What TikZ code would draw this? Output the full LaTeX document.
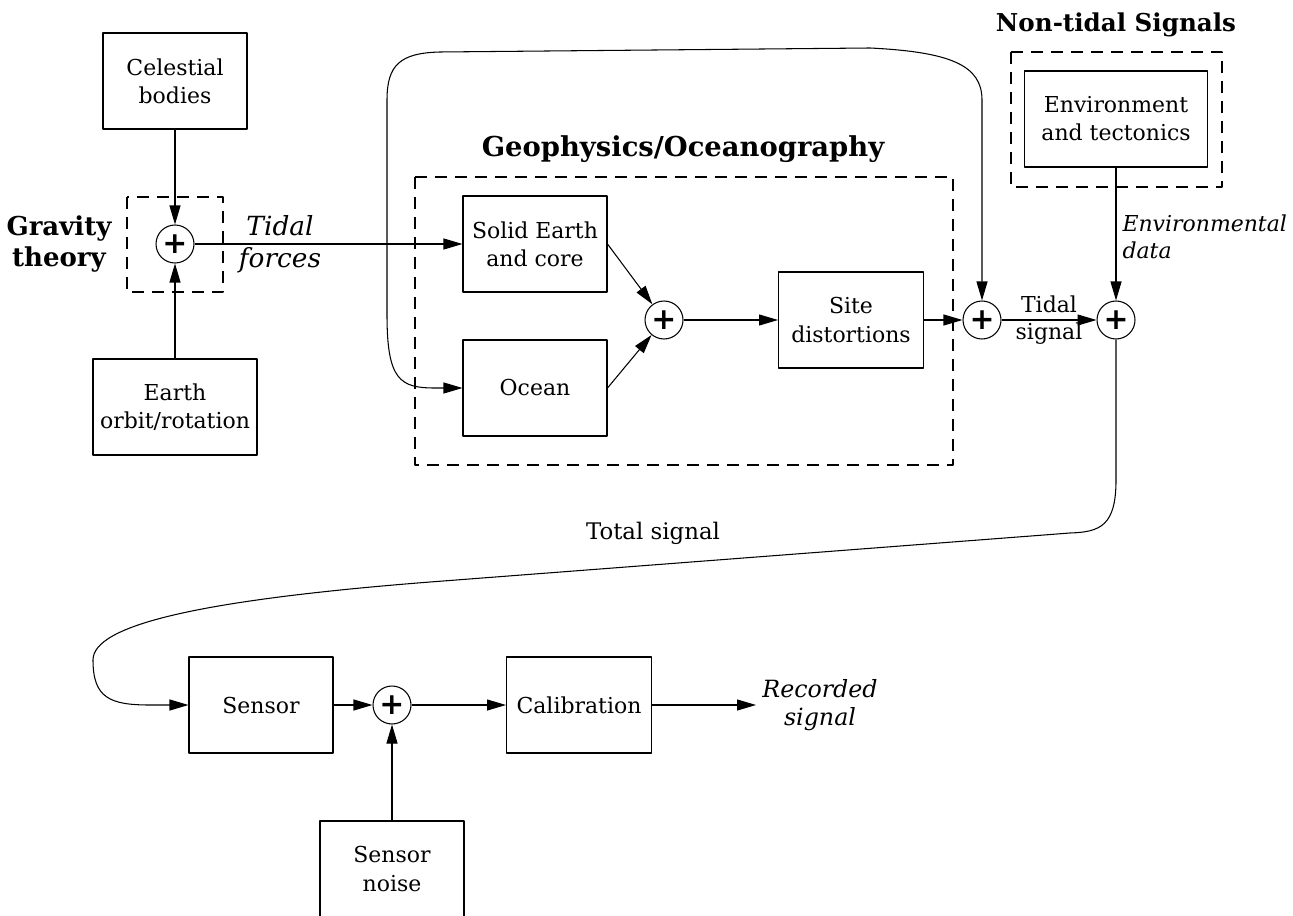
\documentclass[tikz,border=0pt]{standalone}
\usepackage{fontspec}
\setmainfont{DejaVu Serif}
\newfontfamily\plusfont{DejaVu Sans}
\usetikzlibrary{arrows.meta}

\begin{document}
\begin{tikzpicture}[x=0.02cm,y=-0.02cm,>={Triangle[length=3.8mm,width=2.2mm]},line width=0.6pt,line join=round]
  \tikzset{blk/.style={draw,minimum width=2.88cm,minimum height=1.92cm,align=center,inner sep=2pt,font=\fontsize{12.5}{16}\selectfont},
    sumnode/.style={draw,circle,minimum size=0.76cm,inner sep=0pt,font=\plusfont\bfseries\fontsize{17}{17}\selectfont},
    grp/.style={draw,dash pattern=on 2.4mm off 1.6mm},
    ttl/.style={font=\bfseries\fontsize{14}{17}\selectfont,align=center},
    lbl/.style={font=\itshape\fontsize{12.5}{15.5}\selectfont,align=left}}
  \useasboundingbox (0,0) rectangle (1293,915);
  %\draw[gray!30] (0,0) grid[step=100] (1293,915);

  % tidal forces
  \node[blk] (cel) at (175,81) {Celestial\\bodies};
  \node[blk,minimum width=3.28cm] (orb) at (175,407) {Earth\\orbit/rotation};
  \node[sumnode] (s1) at (175,244) {+};
  \draw[grp] (127,197) rectangle (223,292);
  \node[ttl,font=\bfseries\fontsize{14.8}{17.5}\selectfont] (gravtxt) at (59,244) {Gravity\\theory};
  \node[align=center,font=\itshape\fontsize{15}{18}\selectfont] (tidf) at (280,244) {Tidal\\forces};

  % geophysics
  \node[blk] (solid) at (535,244) {Solid Earth\\and core};
  \node[blk] (ocean) at (535,388) {Ocean};
  \node[sumnode] (s2) at (664,320) {+};
  \node[blk,minimum width=2.9cm] (site) at (851,320) {Site\\distortions};
  \draw[grp] (415,177) rectangle (953,465);
  \node[ttl,font=\bfseries\fontsize{15.6}{18}\selectfont] (geotxt) at (683,149) {Geophysics/Oceanography};

  % non-tidal
  \node[blk,minimum width=3.66cm] (env) at (1116,119) {Environment\\and tectonics};
  \draw[grp] (1011,52) rectangle (1222,187);
  \node[ttl] (ntstxt) at (1116,25) {Non-tidal Signals};
  \node[lbl,anchor=west,inner sep=0pt] (envd) at (1122,237) {Environmental\\data};
  \node[sumnode] (s3) at (982,320) {+};
  \node[sumnode] (s4) at (1116,320) {+};

  % recording
  \node[blk] (sensor) at (261,705) {Sensor};
  \node[sumnode] (s5) at (392,705) {+};
  \node[blk,minimum width=2.9cm] (calib) at (579,705) {Calibration};
  \node[blk] (noise) at (392,869) {Sensor\\noise};
  \node[lbl,align=center,font=\itshape\fontsize{13.5}{16}\selectfont] (rec) at (820,705) {Recorded\\signal};
  \node[font=\fontsize{13}{16}\selectfont] (tot) at (653,533) {Total signal};

  \draw[->] (cel) -- (s1);
  \draw[->] (orb) -- (s1);
  \draw[->] (s1) -- (solid);
  \draw[->] (solid.east) -- (s2);
  \draw[->] (ocean.east) -- (s2);
  \draw[->] (s2) -- (site);
  \draw[->] (site) -- (s3);
  \draw[->] (s3) -- node[align=center,font=\fontsize{12.5}{15.5}\selectfont]{Tidal\\signal} (s4);
  \draw[->] (env) -- (s4);
  \draw[<->] (ocean.west) -- (435,388) .. controls (400,388) and (387,380) .. (387,315) -- (387,100)
    .. controls (387,65) and (400,53) .. (440,52) -- (870,48) .. controls (950,52) and (982,65) .. (982,100) -- (s3.north);
  \draw[->] (s4.south) -- (1116,480) .. controls (1116,526) and (1100,532) .. (1070,533) -- (430,582)
    .. controls (200,600) and (93,625) .. (93,660) .. controls (93,698) and (110,705) .. (150,705) -- (sensor.west);
  \draw[->] (sensor) -- (s5);
  \draw[->] (noise) -- (s5);
  \draw[->] (s5) -- (calib);
  \draw[->] (calib) -- (rec);
\end{tikzpicture}
\end{document}
